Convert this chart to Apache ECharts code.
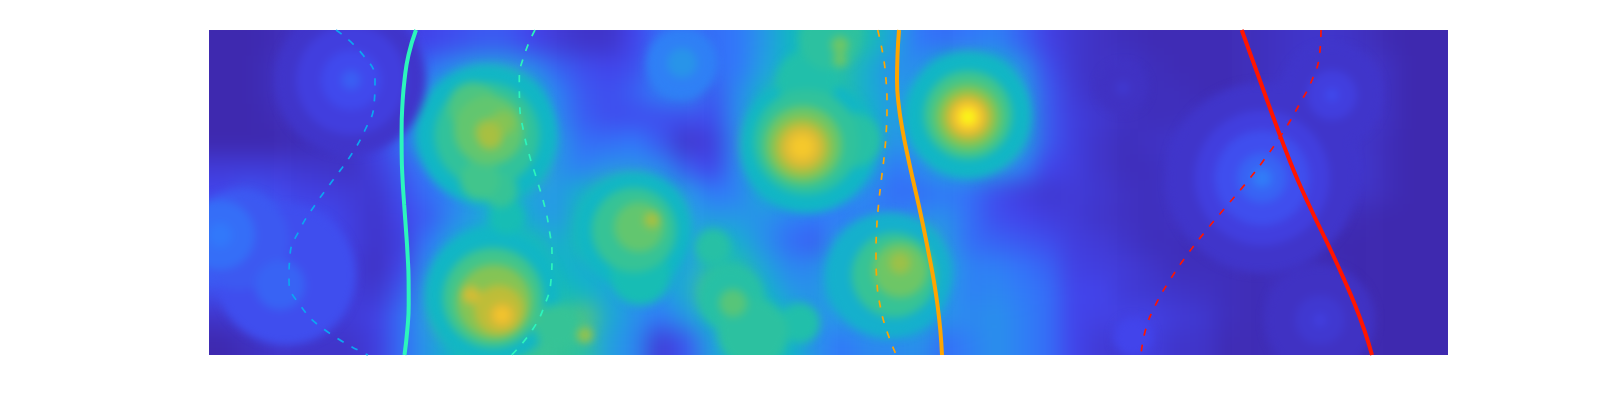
<!DOCTYPE html>
<html>
<head>
<meta charset="utf-8">
<style>html,body{margin:0;padding:0;background:#fff}#c{width:1600px;height:400px}</style>
<script src="https://cdn.jsdelivr.net/npm/echarts@6/dist/echarts.min.js"></script>
</head>
<body>
<div id="c"></div>
<script>
var row00=[1,1,2,4,6,7,5,8,10,12,14,14,10,7,5,5,10,18,18,18,20,28,38,44,54,42,32,20,18,20,22,16,9,6,4,3,2,2,2,2,3,4,5,5,4,2,1,1];
var row01=[1,1,3,7,9,13,9,14,18,25,30,30,24,16,12,10,12,22,28,18,20,30,38,42,45,35,26,25,38,44,38,26,12,6,4,5,3,2,2,2,3,4,6,8,6,4,1,1];
var row02=[1,1,3,7,10,14,11,17,27,40,55,58,38,22,14,12,15,22,24,14,24,36,48,50,44,35,28,30,50,72,50,30,14,7,4,3,3,3,2,2,3,5,8,9,7,4,1,1];
var row03=[1,1,2,4,7,11,10,17,32,48,62,62,42,24,15,12,12,12,12,12,25,42,60,58,46,38,28,35,72,100,72,34,14,8,6,4,3,3,4,5,7,7,5,8,6,4,1,1];
var row04=[1,1,1,2,3,6,9,18,38,50,60,60,46,28,18,18,20,14,5,8,24,60,82,75,48,42,26,30,48,58,50,32,14,8,5,3,4,5,9,12,12,10,6,5,5,3,1,1];
var row05=[7,7,7,6,5,4,8,14,22,32,50,58,46,26,22,26,26,24,14,10,24,42,62,64,40,34,20,24,32,35,30,22,10,8,5,3,3,5,12,14,18,13,8,5,6,3,1,1];
var row06=[10,13,11,9,8,7,6,12,18,24,34,42,30,28,36,45,50,36,28,20,22,34,38,34,28,24,18,18,20,18,12,8,6,7,6,4,3,5,9,12,14,11,7,4,5,3,1,1];
var row07=[14,16,14,12,11,8,5,10,15,24,30,40,32,28,42,55,58,62,30,28,28,26,22,20,20,22,22,24,26,18,12,10,8,7,5,4,3,4,5,7,8,7,4,3,2,1,1,1];
var row08=[20,17,15,13,11,8,5,8,20,32,40,44,42,34,42,58,48,40,28,42,35,26,18,15,30,42,58,48,28,18,16,14,12,8,7,5,3,3,2,3,3,2,2,1,1,1,1,1];
var row09=[17,16,14,12,9,7,4,10,26,42,48,52,46,38,34,36,38,40,30,44,44,32,24,24,38,46,66,58,32,22,22,19,16,9,8,7,5,3,3,3,2,3,3,2,1,1,1,1];
var row10=[12,13,15,13,9,7,6,14,30,58,68,74,55,42,38,32,28,28,34,54,54,38,28,26,38,44,55,40,28,22,24,21,18,10,10,7,6,5,4,3,2,4,5,3,1,1,1,1];
var row11=[5,8,9,8,7,7,9,18,30,60,74,92,74,44,55,34,26,20,28,38,52,42,38,26,28,32,40,36,26,24,26,22,18,10,9,9,9,7,6,3,2,4,6,3,1,1,1,1];
var row12=[1,3,5,5,5,5,8,18,28,38,46,50,48,48,46,30,24,7,14,30,38,44,38,26,20,24,24,26,18,22,26,22,18,10,7,6,8,5,5,2,2,3,5,3,1,1,1,1];
var rows=[row00,row01,row02,row03,row04,row05,row06,row07,row08,row09,row10,row11,row12];

// concentric level patches: centre, level, extent
var patchX=[759,759,759,759,759,759,759, 599,597,594,593,593,593,598,644, 278,278,280,279,264,294,281,271,291,298, 284,284,285,290,293,293,262,348, 425,425,430,443,431, 680,685,691,691, 522,524,591,544,504, 620,631,631, 376, 1053,1053,1053,1053,1053, 1123,1123,1123, 142,142,142,142, 30,11,11,77,71, 473,473, 1111,1111,1111, 914,914, 924];
var patchY=[85,85,87,87,87,87,87, 115,112,115,117,117,117,50,110, 105,105,100,102,77,93,107,150,160,187, 265,268,272,280,285,285,265,297, 200,200,197,190,245, 245,245,240,233, 268,273,293,303,217, 10,15,30, 305, 148,148,148,148,148, 65,65,65, 50,50,50,50, 210,205,205,245,255, 33,33, 290,290,290, 58,58, 307];
var patchLevel=[38,50,60,70,80,90,100, 38,47,58,68,78,86,44,45, 38,47,56,66,52,62,68,50,48,42, 38,50,62,72,80,86,76,48, 38,48,56,68,42, 36,48,58,66, 45,54,44,46,45, 46,58,58, 65, 5,8,12,16,21, 5,8,11, 5,8,11,15, 14,18,20,12,16, 22,27, 4,6,8, 4,6, 10];
var patchSpan=[125,88,66,50,38,26,14, 135,105,78,58,42,24,60,55, 140,105,70,26,50,25,25,40,35,35, 135,100,75,50,24,12,18,45, 115,85,50,16,60, 125,85,55,22, 65,28,40,70,35, 60,18,14, 16, 190,135,95,50,20, 100,50,14, 150,110,60,20, 100,70,25,140,50, 70,30, 110,50,14, 50,14, 40];

var curveDepth=[0,25,50,75,100,125,150,175,200,225,250,275,300,325];
var cyanSolid=[207,199.5,195.5,193.4,192.6,192.7,193.6,195.2,197,198.6,199.6,199.7,198.3,195.5];
var blueDashed=[127,154,166,165,156,142,124,106,90.5,81,80,91,116,159];
var cyanDashed=[326,315.3,310.3,310.7,314.3,320.3,328,335.3,340.3,343,342,335.7,323.3,302.7];
var orangeSolid=[690,688.5,688,689.7,693.5,698.5,704,709.7,715,720,724.7,728.5,731.3,733];
var orangeDashed=[668.7,674,677,678,677.3,675.3,672.3,669.5,667.6,667,667.8,671,677.5,687.3];
var redSolid=[1032.7,1041.7,1050.8,1059.8,1069,1078.5,1088.7,1100,1112,1124,1135.3,1146,1155.3,1163];
var redDashed=[1112,1110.5,1103,1090,1075.5,1058.5,1039.5,1018.5,997.5,978,961,946.5,936.5,932];
var parula=['#3E26A8','#4244EB','#3278FA','#23A0E1','#0CBBBE','#41C58C','#78C65C','#B4BE3A','#E8BA32','#FDD228','#F9FB15'];

var nR=rows.length,nC=rows[0].length,heat=[],xc=[],yc=[],i,j;
for(i=-1;i<=nC;i++)xc.push(String(i));
for(j=-1;j<=nR;j++)yc.push(String(j));
for(j=-1;j<=nR;j++)for(i=-1;i<=nC;i++){
  var r=rows[Math.max(0,Math.min(nR-1,j))];
  heat.push([i+1,j+1,r[Math.max(0,Math.min(nC-1,i))]]);
}
var patches=patchX.map(function(x,k){return [x,patchY[k],patchLevel[k],patchSpan[k]];});
patches.sort(function(a,b){return a[2]-b[2];});
function pts(a){return a.map(function(x,k){return [x,curveDepth[k]];});}
function line(name,a,color,dashed){
  return {name:name,type:'line',xAxisIndex:1,yAxisIndex:1,zlevel:2,data:pts(a),smooth:true,symbol:'none',silent:true,animation:false,clip:true,
    lineStyle:dashed?{color:color,width:1.7,type:[7,9]}:{color:color,width:4}};
}
var left=209,top0=30,W=1239,H=325,cw=W/nC,ch=H/nR;
var chart=echarts.init(document.getElementById('c'),null,{renderer:'canvas'});
chart.setOption({
  animation:false,
  backgroundColor:'transparent',
  grid:[
    {left:left-cw,top:top0-ch,width:W+2*cw,height:H+2*ch,show:false},
    {left:left,top:top0,width:W,height:H,show:false}
  ],
  xAxis:[
    {type:'category',gridIndex:0,data:xc,show:false},
    {type:'value',gridIndex:1,min:0,max:W,show:false}
  ],
  yAxis:[
    {type:'category',gridIndex:0,data:yc,inverse:true,show:false},
    {type:'value',gridIndex:1,min:0,max:H,inverse:true,show:false}
  ],
  visualMap:{show:false,min:0,max:100,seriesIndex:[0,1],dimension:2,inRange:{color:parula}},
  series:[
    {type:'heatmap',xAxisIndex:0,yAxisIndex:0,zlevel:0,data:heat,progressive:0,silent:true,animation:false},
    {type:'scatter',xAxisIndex:1,yAxisIndex:1,zlevel:1,data:patches,symbol:'circle',symbolSize:function(v){return v[3];},
     itemStyle:{opacity:1},silent:true,animation:false,clip:false,progressive:0},
    line('cyan',cyanSolid,'#2CF5BC',false),
    line('blue dashed',blueDashed,'#0CA6F2',true),
    line('cyan dashed',cyanDashed,'#2CF5BC',true),
    line('orange',orangeSolid,'#FFA500',false),
    line('orange dashed',orangeDashed,'#FFA500',true),
    line('red',redSolid,'#FF1500',false),
    line('red dashed',redDashed,'#FF1500',true)
  ]
});
var clip='inset(30px 152px 45px 209px)';
var base=document.querySelector('canvas[data-zr-dom-id="zr_0"]');
var mid=document.querySelector('canvas[data-zr-dom-id="zr_1"]');
if(base){base.style.filter='blur(11px)';base.style.clipPath=clip;}
if(mid){mid.style.filter='blur(4px)';mid.style.clipPath=clip;}
</script>
</body>
</html>
